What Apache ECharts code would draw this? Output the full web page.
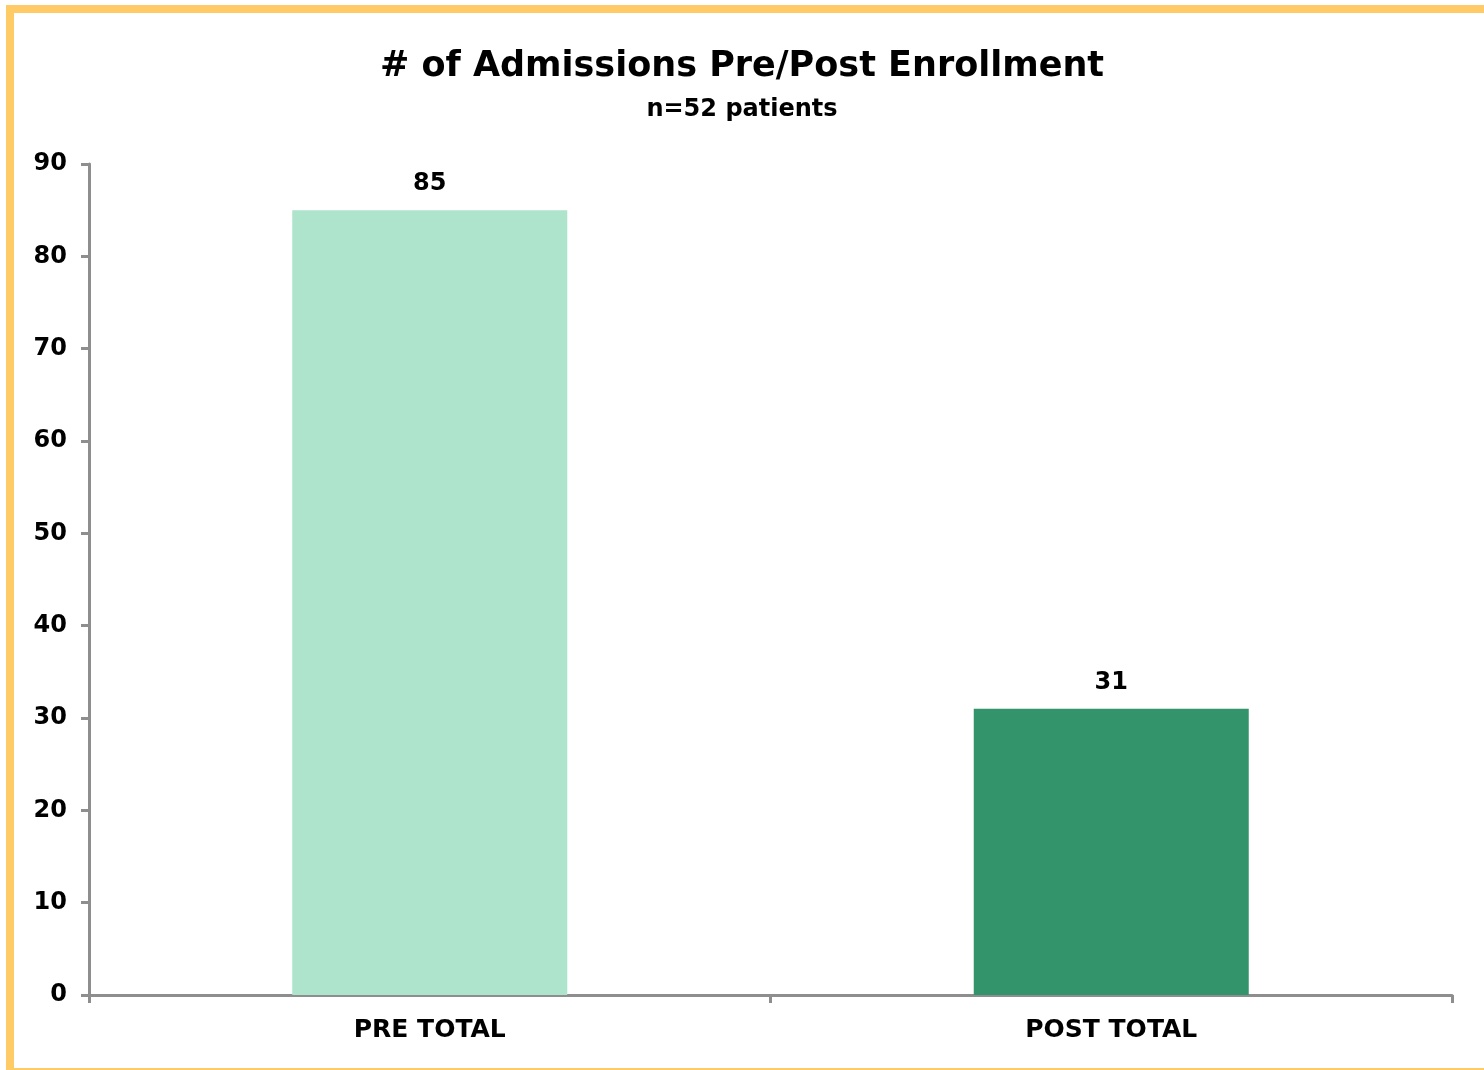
<!DOCTYPE html>
<html>
<head>
<meta charset="utf-8">
<script src="https://cdn.jsdelivr.net/npm/echarts@6/dist/echarts.min.js"></script>
<style>
html,body{margin:0;padding:0;background:#fff;}
#chart{width:1484px;height:1070px;}
</style>
</head>
<body>
<div id="chart"></div>
<script>
const categories = ['PRE TOTAL', 'POST TOTAL'];
const values = [85, 31];
const barColors = ['#ADE4CB', '#33946B'];
const titleText = '# of Admissions Pre/Post Enrollment';
const subtitleText = 'n=52 patients';

const FONT = '"DejaVu Sans", "Liberation Sans", Arial, sans-serif';
const chart = echarts.init(document.getElementById('chart'), null, {renderer: 'canvas'});
chart.setOption({
  backgroundColor: '#ffffff',
  animation: false,
  graphic: [{
    type: 'rect',
    shape: {x: 10, y: 9, width: 1520, height: 1063},
    style: {fill: 'none', stroke: '#FECB66', lineWidth: 8},
    z: 100
  }],
  title: [{
    text: titleText,
    left: 'center',
    top: 44,
    textStyle: {fontFamily: FONT, fontWeight: 'bold', fontSize: 35, color: '#000'}
  }, {
    text: subtitleText,
    left: 'center',
    top: 93,
    textStyle: {fontFamily: FONT, fontWeight: 'bold', fontSize: 24, color: '#000'}
  }],
  grid: {left: 89, right: 32, top: 164, bottom: 75, containLabel: false},
  xAxis: {
    type: 'category',
    data: categories,
    axisLine: {lineStyle: {color: '#8E8E8E', width: 3}},
    axisTick: {show: true, length: 8, lineStyle: {color: '#8E8E8E', width: 3}},
    axisLabel: {fontFamily: FONT, fontWeight: 'bold', fontSize: 25, color: '#000', margin: 23}
  },
  yAxis: {
    type: 'value',
    min: 0, max: 90, interval: 10,
    axisLine: {show: true, lineStyle: {color: '#8E8E8E', width: 3}},
    axisTick: {show: true, length: 8, lineStyle: {color: '#8E8E8E', width: 3}},
    splitLine: {show: false},
    axisLabel: {fontFamily: FONT, fontWeight: 'bold', fontSize: 24, color: '#000', margin: 22}
  },
  series: [{
    type: 'bar',
    barWidth: 275,
    data: values.map((v, i) => ({value: v, itemStyle: {color: barColors[i]}})),
    label: {show: true, position: 'top', distance: 14, fontFamily: FONT, fontWeight: 'bold', fontSize: 24, color: '#000'}
  }]
});
</script>
</body>
</html>
